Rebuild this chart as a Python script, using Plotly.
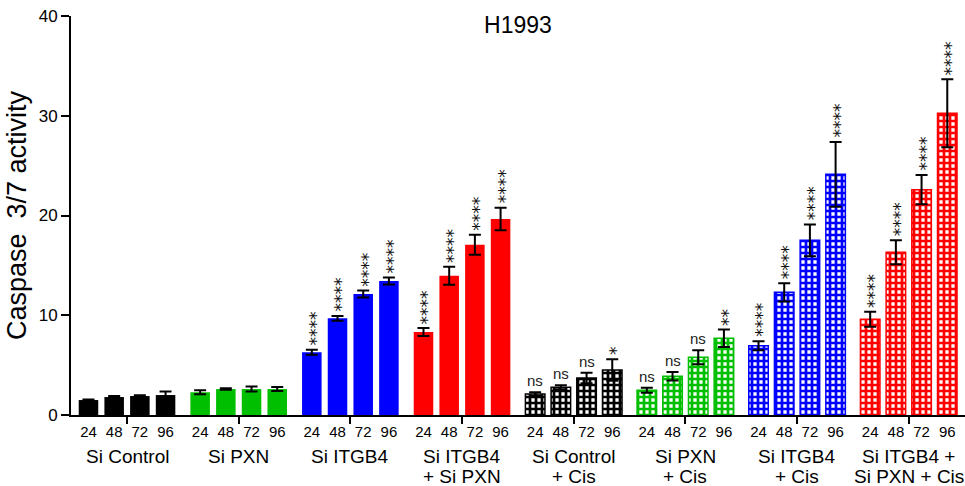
import plotly.graph_objects as go

# ---- data ----
times = ["24", "48", "72", "96"]
group_line1 = ["Si Control", "Si PXN", "Si ITGB4", "Si ITGB4", "Si Control", "Si PXN", "Si ITGB4", "Si ITGB4 +"]
group_line2 = ["", "", "", "+ Si PXN", "+ Cis", "+ Cis", "+ Cis", "Si PXN + Cis"]

si_control = [1.5, 1.8, 1.9, 2.0]
si_pxn = [2.28, 2.6, 2.6, 2.6]
si_itgb4 = [6.29, 9.69, 12.13, 13.43]
si_itgb4_pxn = [8.32, 13.96, 17.07, 19.65]
si_control_cis = [2.1, 2.78, 3.71, 4.51]
si_pxn_cis = [2.48, 3.88, 5.78, 7.69]
si_itgb4_cis = [6.95, 12.3, 17.51, 24.13]
si_itgb4_pxn_cis = [9.59, 16.31, 22.59, 30.25]

err_control = [0.05, 0.1, 0.08, 0.35]
err_pxn = [0.2, 0.07, 0.25, 0.2]
err_itgb4 = [0.25, 0.23, 0.35, 0.35]
err_itgb4_pxn = [0.4, 0.9, 1.0, 1.13]
err_control_cis = [0.17, 0.2, 0.53, 1.07]
err_pxn_cis = [0.25, 0.43, 0.7, 0.87]
err_itgb4_cis = [0.45, 0.92, 1.6, 3.25]
err_itgb4_pxn_cis = [0.75, 1.2, 1.47, 3.4]

sig_control = ["", "", "", ""]
sig_pxn = ["", "", "", ""]
sig_itgb4 = ["****", "****", "****", "****"]
sig_itgb4_pxn = ["****", "****", "****", "****"]
sig_control_cis = ["ns", "ns", "ns", "*"]
sig_pxn_cis = ["ns", "ns", "ns", "**"]
sig_itgb4_cis = ["****", "****", "****", "****"]
sig_itgb4_pxn_cis = ["****", "****", "****", "****"]

means = [si_control, si_pxn, si_itgb4, si_itgb4_pxn,
         si_control_cis, si_pxn_cis, si_itgb4_cis, si_itgb4_pxn_cis]
errs = [err_control, err_pxn, err_itgb4, err_itgb4_pxn,
        err_control_cis, err_pxn_cis, err_itgb4_cis, err_itgb4_pxn_cis]
sigs = [sig_control, sig_pxn, sig_itgb4, sig_itgb4_pxn,
        sig_control_cis, sig_pxn_cis, sig_itgb4_cis, sig_itgb4_pxn_cis]

colors = ["#000000", "#00bf00", "#0000ff", "#ff0000"] * 2
patterned = [False] * 4 + [True] * 4

# ---- layout constants ----
GROUP_PITCH = 4.346
BAR_W = 0.76
FONT = "Arial, Liberation Sans, sans-serif"
XRANGE = [-2.18, 7 * GROUP_PITCH + 2.19]

fig = go.Figure()
annotations = []
tickvals, ticktext, centers = [], [], []

for g in range(8):
    xs = [g * GROUP_PITCH + (i - 1.5) for i in range(4)]
    centers.append(g * GROUP_PITCH)
    tickvals += xs
    ticktext += times
    c = colors[g]
    if patterned[g]:
        marker = dict(color="white", line=dict(color=c, width=1.5),
                      pattern=dict(shape="+", fgcolor=c, bgcolor="white", fgopacity=1,
                                   size=6, solidity=0.7, fillmode="replace"))
    else:
        marker = dict(color=c, line=dict(color=c, width=0))
    fig.add_trace(go.Bar(
        x=xs, y=means[g], width=BAR_W, marker=marker,
        error_y=dict(type="data", array=errs[g], color="black", thickness=2, width=6),
        showlegend=False, hoverinfo="skip"))
    for i in range(4):
        s = sigs[g][i]
        if not s:
            continue
        top = means[g][i] + errs[g][i]
        if s == "ns":
            annotations.append(dict(x=xs[i], y=top, text=s, showarrow=False,
                                    xanchor="center", yanchor="bottom", yshift=1,
                                    font=dict(family=FONT, size=15, color="#222")))
        else:
            annotations.append(dict(x=xs[i], y=top, text=s, showarrow=False,
                                    textangle=-90, xanchor="center", yanchor="bottom",
                                    yshift=2, xshift=4,
                                    font=dict(family="DejaVu Sans", size=17, color="#111")))
    annotations.append(dict(x=g * GROUP_PITCH, xref="x", y=-0.1028, yref="paper",
                            text=group_line1[g], showarrow=False, xanchor="center",
                            yanchor="middle", font=dict(family=FONT, size=19, color="black")))
    if group_line2[g]:
        annotations.append(dict(x=g * GROUP_PITCH, xref="x", y=-0.1529, yref="paper",
                                text=group_line2[g], showarrow=False, xanchor="center",
                                yanchor="middle", font=dict(family=FONT, size=19, color="black")))

# invisible trace to activate the secondary x axis that carries the time labels
fig.add_trace(go.Scatter(x=XRANGE, y=[0, 0], xaxis="x2", mode="lines",
                         line=dict(width=0), showlegend=False, hoverinfo="skip"))

fig.update_layout(
    width=965, height=486,
    margin=dict(l=71, r=0, t=16, b=71),
    paper_bgcolor="white", plot_bgcolor="white",
    font=dict(family=FONT, color="black"),
    title=dict(text="H1993", x=0.5, xref="paper", y=1 - 25 / 486, yanchor="middle",
               font=dict(family=FONT, size=23, color="black")),
    barmode="overlay",
    annotations=annotations,
    xaxis=dict(range=XRANGE, tickvals=centers, ticktext=[""] * 8,
               ticks="outside", ticklen=7, tickwidth=1.5, tickcolor="black",
               showline=True, linecolor="black", linewidth=2, showgrid=False,
               zeroline=False),
    xaxis2=dict(range=XRANGE, overlaying="x", side="bottom", anchor="y",
                tickvals=tickvals, ticktext=ticktext, ticks="", showline=False,
                showgrid=False, zeroline=False, ticklabelstandoff=6,
                tickfont=dict(family=FONT, size=15, color="black")),
    yaxis=dict(range=[0, 40], tickvals=[0, 10, 20, 30, 40], ticks="outside", ticklen=8,
               tickwidth=2, tickcolor="black", showline=True, linecolor="black", linewidth=2,
               showgrid=False, zeroline=False,
               tickfont=dict(family=FONT, size=17, color="black"),
               title=dict(text="Caspase  3/7 activity", standoff=4,
                          font=dict(family=FONT, size=27, color="black"))),
)

fig.write_html("out.html", config={"displayModeBar": False},
               post_script="document.body.style.margin='0';")
